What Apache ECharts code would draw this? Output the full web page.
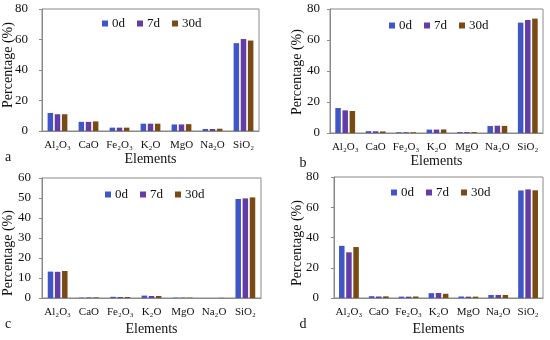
<!DOCTYPE html>
<html>
<head>
<meta charset="utf-8">
<script src="https://cdn.jsdelivr.net/npm/echarts@6/dist/echarts.min.js"></script>
<style>
html,body{margin:0;padding:0;background:#fff;}
#chart{width:550px;height:340px;}
</style>
</head>
<body>
<div id="chart"></div>
<script>
var categories = ['Al2O3','CaO','Fe2O3','K2O','MgO','Na2O','SiO2'];
var categoryLabels = ['Al₂O₃','CaO','Fe₂O₃','K₂O','MgO','Na₂O','SiO₂'];
var seriesNames = ['0d','7d','30d'];

var a0d  = [11.8, 6.0, 2.2, 4.8, 4.3, 1.3, 57.6];
var a7d  = [11.0, 6.0, 2.2, 4.8, 4.3, 1.3, 60.3];
var a30d = [11.0, 6.3, 2.2, 4.8, 4.5, 1.5, 59.3];

var b0d  = [16.1, 1.2, 0.5, 2.2, 0.6, 4.5, 71.2];
var b7d  = [14.6, 1.1, 0.5, 2.2, 0.6, 4.7, 72.9];
var b30d = [14.2, 1.0, 0.5, 2.3, 0.6, 4.6, 73.8];

var c0d  = [13.2, 0.2, 0.6, 1.2, 0.2, 0.0, 49.5];
var c7d  = [13.1, 0.3, 0.5, 1.0, 0.2, 0.0, 49.8];
var c30d = [13.5, 0.3, 0.5, 1.0, 0.2, 0.1, 50.3];

var d0d  = [34.5, 1.2, 0.9, 3.2, 1.0, 2.0, 71.1];
var d7d  = [30.2, 1.0, 0.9, 3.3, 0.9, 2.0, 71.8];
var d30d = [33.7, 1.1, 1.0, 2.8, 0.9, 2.0, 71.2];

var yMaxA = 80, yIntA = 20;
var yMaxB = 80, yIntB = 20;
var yMaxC = 60, yIntC = 10;
var yMaxD = 80, yIntD = 20;

var colors = ['#3F56C8', '#643CA6', '#7A4A14'];
var FONT = '"Liberation Serif","Times New Roman",serif';

var panels = [
  {grid:{left:42, top:9, width:217, height:122}, max:yMaxA, interval:yIntA, data:[a0d,a7d,a30d], nameGap:21, labelMargin:14, legend:{left:102, top:17}, yTitle:[8,65], letter:['a',8,157]},
  {grid:{left:330, top:9, width:213, height:124}, max:yMaxB, interval:yIntB, data:[b0d,b7d,b30d], nameGap:21, labelMargin:10, legend:{left:389, top:19}, yTitle:[297,72], letter:['b',303,163]},
  {grid:{left:42, top:178, width:219, height:120}, max:yMaxC, interval:yIntC, data:[c0d,c7d,c30d], nameGap:24, labelMargin:11, legend:{left:105, top:188}, yTitle:[8,253], letter:['c',8,324]},
  {grid:{left:334, top:177, width:209, height:121}, max:yMaxD, interval:yIntD, data:[d0d,d7d,d30d], nameGap:24, labelMargin:15, legend:{left:391, top:186}, yTitle:[297,243], letter:['d',303,324]}
];

var option = {
  animation:false,
  backgroundColor:'#fff',
  textStyle:{fontFamily:FONT},
  grid:[], xAxis:[], yAxis:[], series:[], legend:[], graphic:[]
};

panels.forEach(function(p, i){
  option.grid.push({left:p.grid.left, top:p.grid.top, width:p.grid.width, height:p.grid.height,
    show:true, borderColor:'#8a8a8a', borderWidth:1, containLabel:false});
  option.xAxis.push({
    type:'category', gridIndex:i, data:categories,
    name:'Elements', nameLocation:'middle', nameGap:p.nameGap,
    nameTextStyle:{fontFamily:FONT, fontSize:14, color:'#111'},
    axisLine:{lineStyle:{color:'#8a8a8a'}},
    axisTick:{show:false},
    axisLabel:{fontFamily:FONT, fontSize:11, color:'#111', margin:9, interval:0,
      formatter:function(v){ return categoryLabels[categories.indexOf(v)]; }}
  });
  option.yAxis.push({
    type:'value', gridIndex:i, min:0, max:p.max, interval:p.interval,
    axisLine:{show:true, lineStyle:{color:'#8a8a8a'}},
    axisTick:{show:true, length:3, lineStyle:{color:'#8a8a8a'}},
    splitLine:{show:false},
    axisLabel:{fontFamily:FONT, fontSize:13, color:'#111', margin:p.labelMargin}
  });
  seriesNames.forEach(function(n, k){
    option.series.push({
      type:'bar', name:n, xAxisIndex:i, yAxisIndex:i, data:p.data[k],
      barWidth:5.5, barGap:'30%', itemStyle:{color:colors[k]}
    });
  });
  option.legend.push({
    data:seriesNames, left:p.legend.left, top:p.legend.top, orient:'horizontal',
    itemWidth:6, itemHeight:6, itemGap:12, icon:'rect', padding:0,
    textStyle:{fontFamily:FONT, fontSize:13, color:'#111', padding:[0,0,0,-1]}
  });
  option.graphic.push({
    type:'text', x:p.yTitle[0], y:p.yTitle[1], rotation:Math.PI/2,
    style:{text:'Percentage (%)', fontFamily:FONT, fontSize:14, fill:'#111', textAlign:'center', textVerticalAlign:'middle'}
  });
  option.graphic.push({
    type:'text', x:p.letter[1], y:p.letter[2],
    style:{text:p.letter[0], fontFamily:FONT, fontSize:14, fill:'#111', textAlign:'center', textVerticalAlign:'middle'}
  });
});

var chart = echarts.init(document.getElementById('chart'), null, {renderer:'canvas'});
chart.setOption(option);
</script>
</body>
</html>
